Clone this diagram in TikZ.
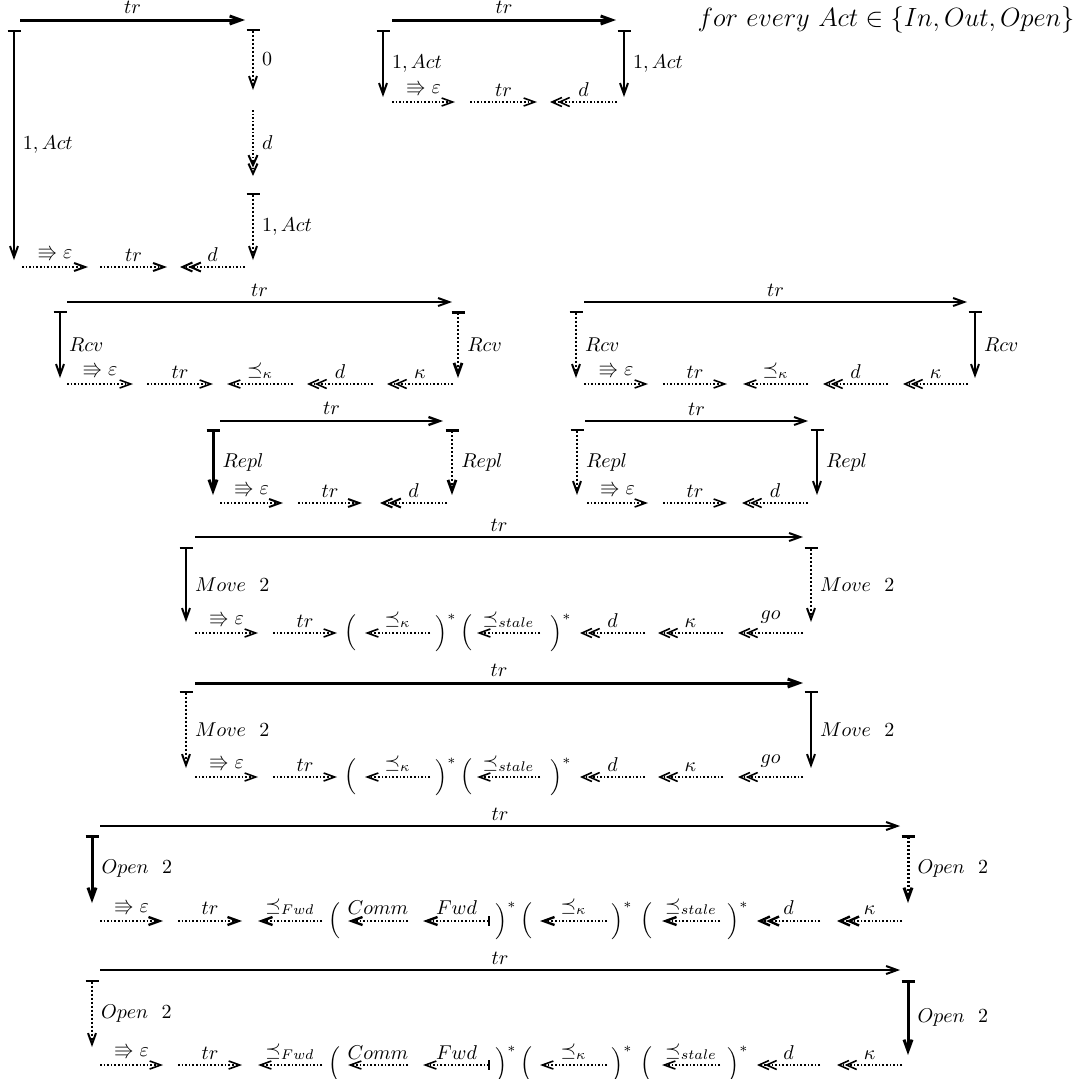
\documentclass[tikz,border=0pt]{standalone}
\usepackage{amssymb,amsmath}
\usetikzlibrary{arrows.meta}

\begin{document}
\begin{tikzpicture}[
x=0.5pt, y=-0.5pt, % one unit = one pixel of the page, y runs downwards
>={Straight Barb[length=5.5pt,width=4pt]},
trline/.style={->, line width=1pt},
heavy/.style={line width=1.5pt},
barline/.style={{Bar[width=6.5pt]}->, line width=1pt},
bardots/.style={{Bar[width=6.5pt]}->, line width=1pt, densely dotted},
dotarr/.style={->, line width=0.8pt, densely dotted},
dblarr/.style={-{Straight Barb[length=5pt,width=4.5pt,sep=-2.5pt]Straight Barb[length=5pt,width=4.5pt]}, line width=0.8pt, densely dotted},
fwdarr/.style={{Bar[width=5pt]}->, line width=0.8pt, densely dotted},
lab/.style={inner sep=2.5pt},
side/.style={inner sep=4pt},
paren/.style={inner sep=0pt}
]
\useasboundingbox (0,0) rectangle (1081,1078);

% ================= Top left: 1, Act =================
\coordinate (A1) at (20,20);
\coordinate (A2) at (245,20);
\draw[trline, heavy] (A1) -- node[lab, above] (A1t) {$tr$} (A2);
\coordinate (A3) at (14,30);
\coordinate (A4) at (14,260);
\draw[barline] (A3) -- node[side, right] (A3t) {$1,Act$} (A4);
\coordinate (A5) at (253,29);
\coordinate (A6) at (253,90);
\draw[bardots] (A5) -- node[side, right] (A5t) {$0$} (A6);
\coordinate (A7) at (253,110);
\coordinate (A8) at (253,176);
\draw[dblarr, line width=1pt] (A7) -- node[side, right] (A7t) {$d$} (A8);
\coordinate (A9) at (253,193);
\coordinate (A10) at (253,260);
\draw[bardots] (A9) -- node[side, right] (A9t) {$1,Act$} (A10);
% bottom row
\coordinate (A11) at (22,267);
\coordinate (A12) at (88,267);
\draw[dotarr, line width=1pt] (A11) -- node[lab, above] (A11t) {$\Rrightarrow\varepsilon$} (A12);
\coordinate (A13) at (100,267);
\coordinate (A14) at (167,267);
\draw[dotarr, line width=1pt] (A13) -- node[lab, above] (A13t) {$tr$} (A14);
\coordinate (A15) at (245,267);
\coordinate (A16) at (180,267);
\draw[dblarr, line width=1pt] (A15) -- node[lab, above] (A15t) {$d$} (A16);

% ================= Top middle: 1, Act on both sides =================
\coordinate (B1) at (392,20);
\coordinate (B2) at (616,20);
\draw[trline, heavy] (B1) -- node[lab, above] (B1t) {$tr$} (B2);
\coordinate (B3) at (383,30);
\coordinate (B4) at (383,97);
\draw[barline] (B3) -- node[side, right] (B3t) {$1,Act$} (B4);
\coordinate (B5) at (624,30);
\coordinate (B6) at (624,97);
\draw[barline] (B5) -- node[side, right] (B5t) {$1,Act$} (B6);
\coordinate (B7) at (392,102);
\coordinate (B8) at (455,102);
\draw[dotarr] (B7) -- node[lab, above] (B7t) {$\Rrightarrow\varepsilon$} (B8);
\coordinate (B9) at (470,102);
\coordinate (B10) at (537,102);
\draw[dotarr] (B9) -- node[lab, above] (B9t) {$tr$} (B10);
\coordinate (B11) at (617,102);
\coordinate (B12) at (550,102);
\draw[dblarr] (B11) -- node[lab, above] (B11t) {$d$} (B12);

\node[inner sep=0pt] (every) at (886,20) {\scalebox{1.1}{\large $for\ every\ Act\in\{In,Out,Open\}$}};

% ================= Rcv, left =================
\coordinate (C1) at (67,302);
\coordinate (C2) at (452,302);
\draw[trline] (C1) -- node[lab, above] (C1t) {$tr$} (C2);
\coordinate (C3) at (60,311);
\coordinate (C4) at (60,378);
\draw[barline] (C3) -- node[side, right] (C3t) {$Rcv$} (C4);
\coordinate (C5) at (458,311);
\coordinate (C6) at (458,378);
\draw[bardots, line width=1.4pt] (C5) -- node[side, right] (C5t) {$Rcv$} (C6);
\coordinate (C7) at (67,384);
\coordinate (C8) at (133,384);
\draw[dotarr] (C7) -- node[lab, above] (C7t) {$\Rrightarrow\varepsilon$} (C8);
\coordinate (C9) at (147,384);
\coordinate (C10) at (213,384);
\draw[dotarr] (C9) -- node[lab, above] (C9t) {$tr$} (C10);
\coordinate (C11) at (293,384);
\coordinate (C12) at (227,384);
\draw[dotarr] (C11) -- node[lab, above] (C11t) {$\preceq_\kappa$} (C12);
\coordinate (C13) at (373,384);
\coordinate (C14) at (307,384);
\draw[dblarr] (C13) -- node[lab, above] (C13t) {$d$} (C14);
\coordinate (C15) at (453,384);
\coordinate (C16) at (387,384);
\draw[dblarr] (C15) -- node[lab, above] (C15t) {$\kappa$} (C16);

% ================= Rcv, right =================
\coordinate (D1) at (584,302);
\coordinate (D2) at (967,302);
\draw[trline] (D1) -- node[lab, above] (D1t) {$tr$} (D2);
\coordinate (D3) at (576,311);
\coordinate (D4) at (576,378);
\draw[bardots] (D3) -- node[side, right] (D3t) {$Rcv$} (D4);
\coordinate (D5) at (975,311);
\coordinate (D6) at (975,378);
\draw[barline] (D5) -- node[side, right] (D5t) {$Rcv$} (D6);
\coordinate (D7) at (584,384);
\coordinate (D8) at (648,384);
\draw[dotarr] (D7) -- node[lab, above] (D7t) {$\Rrightarrow\varepsilon$} (D8);
\coordinate (D9) at (663,384);
\coordinate (D10) at (727,384);
\draw[dotarr] (D9) -- node[lab, above] (D9t) {$tr$} (D10);
\coordinate (D11) at (808,384);
\coordinate (D12) at (743,384);
\draw[dotarr] (D11) -- node[lab, above] (D11t) {$\preceq_\kappa$} (D12);
\coordinate (D13) at (888,384);
\coordinate (D14) at (823,384);
\draw[dblarr] (D13) -- node[lab, above] (D13t) {$d$} (D14);
\coordinate (D15) at (968,384);
\coordinate (D16) at (903,384);
\draw[dblarr] (D15) -- node[lab, above] (D15t) {$\kappa$} (D16);

% ================= Repl, left =================
\coordinate (E1) at (220,421);
\coordinate (E2) at (443,421);
\draw[trline, line width=1.2pt] (E1) -- node[lab, above] (E1t) {$tr$} (E2);
\coordinate (E3) at (213,429);
\coordinate (E4) at (213,495);
\draw[barline, heavy] (E3) -- node[side, right] (E3t) {$Repl$} (E4);
\coordinate (E5) at (452,429);
\coordinate (E6) at (452,495);
\draw[bardots, line width=1.4pt] (E5) -- node[side, right] (E5t) {$Repl$} (E6);
\coordinate (E7) at (220,503);
\coordinate (E8) at (283,503);
\draw[dotarr, line width=1pt] (E7) -- node[lab, above] (E7t) {$\Rrightarrow\varepsilon$} (E8);
\coordinate (E9) at (298,503);
\coordinate (E10) at (362,503);
\draw[dotarr, line width=1pt] (E9) -- node[lab, above] (E9t) {$tr$} (E10);
\coordinate (E11) at (447,503);
\coordinate (E12) at (380,503);
\draw[dblarr, line width=1pt] (E11) -- node[lab, above] (E11t) {$d$} (E12);

% ================= Repl, right =================
\coordinate (F1) at (585,421);
\coordinate (F2) at (808,421);
\draw[trline] (F1) -- node[lab, above] (F1t) {$tr$} (F2);
\coordinate (F3) at (577,429);
\coordinate (F4) at (577,495);
\draw[bardots] (F3) -- node[side, right] (F3t) {$Repl$} (F4);
\coordinate (F5) at (817,429);
\coordinate (F6) at (817,495);
\draw[barline] (F5) -- node[side, right] (F5t) {$Repl$} (F6);
\coordinate (F7) at (587,503);
\coordinate (F8) at (648,503);
\draw[dotarr] (F7) -- node[lab, above] (F7t) {$\Rrightarrow\varepsilon$} (F8);
\coordinate (F9) at (663,503);
\coordinate (F10) at (727,503);
\draw[dotarr] (F9) -- node[lab, above] (F9t) {$tr$} (F10);
\coordinate (F11) at (808,503);
\coordinate (F12) at (742,503);
\draw[dblarr] (F11) -- node[lab, above] (F11t) {$d$} (F12);

% ================= Move 2, first =================
\coordinate (G1) at (195,537);
\coordinate (G2) at (803,537);
\draw[trline] (G1) -- node[lab, above] (G1t) {$tr$} (G2);
\coordinate (G3) at (186,547);
\coordinate (G4) at (186,622);
\draw[barline] (G3) -- node[side, right] (G3t) {$Move\ \ 2$} (G4);
\coordinate (G5) at (811,547);
\coordinate (G6) at (811,622);
\draw[bardots] (G5) -- node[side, right] (G5t) {$Move\ \ 2$} (G6);
\coordinate (G7) at (195,633);
\coordinate (G8) at (258,633);
\draw[dotarr] (G7) -- node[lab, above] (G7t) {$\Rrightarrow\varepsilon$} (G8);
\coordinate (G9) at (273,633);
\coordinate (G10) at (337,633);
\draw[dotarr] (G9) -- node[lab, above] (G9t) {$tr$} (G10);
\node[paren] (Gp1) at (350,633) {$\Big($};
\coordinate (G11) at (430,633);
\coordinate (G12) at (365,633);
\draw[dotarr] (G11) -- node[lab, above] (G11t) {$\preceq_\kappa$} (G12);
\node[paren] (Gp2) at (446,633) {$\Big)^*$};
\node[paren] (Gp3) at (466,633) {$\Big($};
\coordinate (G13) at (540,633);
\coordinate (G14) at (477,633);
\draw[dotarr] (G13) -- node[lab, above] (G13t) {$\preceq_{stale}$} (G14);
\node[paren] (Gp4) at (561,633) {$\Big)^*$};
\coordinate (G15) at (645,633);
\coordinate (G16) at (580,633);
\draw[dblarr] (G15) -- node[lab, above] (G15t) {$d$} (G16);
\coordinate (G17) at (723,633);
\coordinate (G18) at (658,633);
\draw[dblarr] (G17) -- node[lab, above] (G17t) {$\kappa$} (G18);
\coordinate (G19) at (803,633);
\coordinate (G20) at (738,633);
\draw[dblarr] (G19) -- node[lab, above, yshift=2pt] (G19t) {$go$} (G20);

% ================= Move 2, second =================
\coordinate (H1) at (195,683);
\coordinate (H2) at (803,683);
\draw[trline, heavy] (H1) -- node[lab, above] (H1t) {$tr$} (H2);
\coordinate (H3) at (186,691);
\coordinate (H4) at (186,768);
\draw[bardots] (H3) -- node[side, right] (H3t) {$Move\ \ 2$} (H4);
\coordinate (H5) at (811,691);
\coordinate (H6) at (811,768);
\draw[barline] (H5) -- node[side, right] (H5t) {$Move\ \ 2$} (H6);
\coordinate (H7) at (195,777);
\coordinate (H8) at (258,777);
\draw[dotarr] (H7) -- node[lab, above] (H7t) {$\Rrightarrow\varepsilon$} (H8);
\coordinate (H9) at (273,777);
\coordinate (H10) at (337,777);
\draw[dotarr] (H9) -- node[lab, above] (H9t) {$tr$} (H10);
\node[paren] (Hp1) at (350,777) {$\Big($};
\coordinate (H11) at (430,777);
\coordinate (H12) at (365,777);
\draw[dotarr] (H11) -- node[lab, above] (H11t) {$\preceq_\kappa$} (H12);
\node[paren] (Hp2) at (446,777) {$\Big)^*$};
\node[paren] (Hp3) at (466,777) {$\Big($};
\coordinate (H13) at (540,777);
\coordinate (H14) at (477,777);
\draw[dotarr] (H13) -- node[lab, above] (H13t) {$\preceq_{stale}$} (H14);
\node[paren] (Hp4) at (561,777) {$\Big)^*$};
\coordinate (H15) at (645,777);
\coordinate (H16) at (580,777);
\draw[dblarr] (H15) -- node[lab, above] (H15t) {$d$} (H16);
\coordinate (H17) at (723,777);
\coordinate (H18) at (658,777);
\draw[dblarr] (H17) -- node[lab, above] (H17t) {$\kappa$} (H18);
\coordinate (H19) at (803,777);
\coordinate (H20) at (738,777);
\draw[dblarr] (H19) -- node[lab, above, yshift=2pt] (H19t) {$go$} (H20);

% ================= Open 2, first =================
\coordinate (I1) at (100,826);
\coordinate (I2) at (900,826);
\draw[trline] (I1) -- node[lab, above] (I1t) {$tr$} (I2);
\coordinate (I3) at (92,835);
\coordinate (I4) at (92,903);
\draw[barline, heavy] (I3) -- node[side, right] (I3t) {$Open\ \ 2$} (I4);
\coordinate (I5) at (908,835);
\coordinate (I6) at (908,903);
\draw[bardots, heavy] (I5) -- node[side, right] (I5t) {$Open\ \ 2$} (I6);
\coordinate (I7) at (100,921);
\coordinate (I8) at (163,921);
\draw[dotarr, line width=1.2pt] (I7) -- node[lab, above] (I7t) {$\Rrightarrow\varepsilon$} (I8);
\coordinate (I9) at (178,921);
\coordinate (I10) at (242,921);
\draw[dotarr, line width=1.2pt] (I9) -- node[lab, above] (I9t) {$tr$} (I10);
\coordinate (I11) at (322,921);
\coordinate (I12) at (258,921);
\draw[dotarr, line width=1.2pt] (I11) -- node[lab, above] (I11t) {$\preceq_{Fwd}$} (I12);
\node[paren] (Ip1) at (334,921) {$\Big($};
\coordinate (I13) at (408,921);
\coordinate (I14) at (348,921);
\draw[dotarr, line width=1.2pt] (I13) -- node[lab, above] (I13t) {$Comm$} (I14);
\coordinate (I15) at (490,921);
\coordinate (I16) at (423,921);
\draw[fwdarr, line width=1.2pt] (I15) -- node[lab, above] (I15t) {$Fwd$} (I16);
\node[paren] (Ip2) at (506,921) {$\Big)^*$};
\node[paren] (Ip3) at (526,921) {$\Big($};
\coordinate (I17) at (607,921);
\coordinate (I18) at (540,921);
\draw[dotarr, line width=1.2pt] (I17) -- node[lab, above] (I17t) {$\preceq_\kappa$} (I18);
\node[paren] (Ip4) at (622,921) {$\Big)^*$};
\node[paren] (Ip5) at (646,921) {$\Big($};
\coordinate (I19) at (720,921);
\coordinate (I20) at (662,921);
\draw[dotarr, line width=1.2pt] (I19) -- node[lab, above] (I19t) {$\preceq_{stale}$} (I20);
\node[paren] (Ip6) at (738,921) {$\Big)^*$};
\coordinate (I21) at (820,921);
\coordinate (I22) at (757,921);
\draw[dblarr, line width=1.2pt] (I21) -- node[lab, above] (I21t) {$d$} (I22);
\coordinate (I23) at (902,921);
\coordinate (I24) at (837,921);
\draw[dblarr, line width=1.2pt] (I23) -- node[lab, above] (I23t) {$\kappa$} (I24);

% ================= Open 2, second =================
\coordinate (J1) at (100,970);
\coordinate (J2) at (900,970);
\draw[trline] (J1) -- node[lab, above] (J1t) {$tr$} (J2);
\coordinate (J3) at (92,980);
\coordinate (J4) at (92,1047);
\draw[bardots] (J3) -- node[side, right] (J3t) {$Open\ \ 2$} (J4);
\coordinate (J5) at (908,980);
\coordinate (J6) at (908,1055);
\draw[barline, heavy] (J5) -- node[side, right] (J5t) {$Open\ \ 2$} (J6);
\coordinate (J7) at (100,1065);
\coordinate (J8) at (163,1065);
\draw[dotarr] (J7) -- node[lab, above] (J7t) {$\Rrightarrow\varepsilon$} (J8);
\coordinate (J9) at (178,1065);
\coordinate (J10) at (242,1065);
\draw[dotarr] (J9) -- node[lab, above] (J9t) {$tr$} (J10);
\coordinate (J11) at (322,1065);
\coordinate (J12) at (258,1065);
\draw[dotarr] (J11) -- node[lab, above] (J11t) {$\preceq_{Fwd}$} (J12);
\node[paren] (Jp1) at (334,1065) {$\Big($};
\coordinate (J13) at (408,1065);
\coordinate (J14) at (348,1065);
\draw[dotarr] (J13) -- node[lab, above] (J13t) {$Comm$} (J14);
\coordinate (J15) at (490,1065);
\coordinate (J16) at (423,1065);
\draw[fwdarr] (J15) -- node[lab, above] (J15t) {$Fwd$} (J16);
\node[paren] (Jp2) at (506,1065) {$\Big)^*$};
\node[paren] (Jp3) at (526,1065) {$\Big($};
\coordinate (J17) at (607,1065);
\coordinate (J18) at (540,1065);
\draw[dotarr] (J17) -- node[lab, above] (J17t) {$\preceq_\kappa$} (J18);
\node[paren] (Jp4) at (622,1065) {$\Big)^*$};
\node[paren] (Jp5) at (646,1065) {$\Big($};
\coordinate (J19) at (720,1065);
\coordinate (J20) at (662,1065);
\draw[dotarr] (J19) -- node[lab, above] (J19t) {$\preceq_{stale}$} (J20);
\node[paren] (Jp6) at (738,1065) {$\Big)^*$};
\coordinate (J21) at (820,1065);
\coordinate (J22) at (757,1065);
\draw[dblarr] (J21) -- node[lab, above] (J21t) {$d$} (J22);
\coordinate (J23) at (902,1065);
\coordinate (J24) at (837,1065);
\draw[dblarr] (J23) -- node[lab, above] (J23t) {$\kappa$} (J24);

\end{tikzpicture}
\end{document}
